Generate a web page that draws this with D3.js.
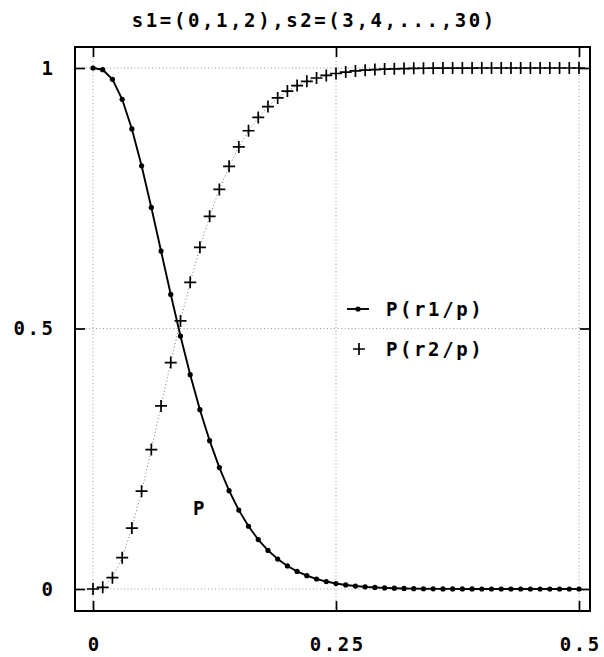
<!DOCTYPE html>
<html>
<head>
<meta charset="utf-8">
<script src="https://cdn.jsdelivr.net/npm/d3@7/dist/d3.min.js"></script>
<style>
  html, body { margin: 0; padding: 0; background: #fff; }
  svg text { font-family: "DejaVu Sans Mono", monospace; font-weight: bold; font-size: 19px; letter-spacing: 2.6px; fill: #000; }
</style>
</head>
<body>
<svg id="chart" width="604" height="657"></svg>
<script>
// Probability p on the x axis
const pValues = [
  0.00, 0.01, 0.02, 0.03, 0.04, 0.05, 0.06, 0.07, 0.08, 0.09,
  0.10, 0.11, 0.12, 0.13, 0.14, 0.15, 0.16, 0.17, 0.18, 0.19,
  0.20, 0.21, 0.22, 0.23, 0.24, 0.25, 0.26, 0.27, 0.28, 0.29,
  0.30, 0.31, 0.32, 0.33, 0.34, 0.35, 0.36, 0.37, 0.38, 0.39,
  0.40, 0.41, 0.42, 0.43, 0.44, 0.45, 0.46, 0.47, 0.48, 0.49, 0.50
];
// P(r1/p)
const pR1 = [
  1.0000, 0.9967, 0.9783, 0.9399, 0.8831, 0.8122, 0.7324, 0.6487, 0.5654, 0.4855,
  0.4114, 0.3442, 0.2847, 0.2330, 0.1887, 0.1514, 0.1204, 0.0949, 0.0741, 0.0575,
  0.0442, 0.0337, 0.0255, 0.0192, 0.0143, 0.0106, 0.0078, 0.0057, 0.0041, 0.0030,
  0.0021, 0.0015, 0.0011, 0.0007, 0.0005, 0.0003, 0.0002, 0.0002, 0.0001, 0.0001,
  0.0000, 0.0000, 0.0000, 0.0000, 0.0000, 0.0000, 0.0000, 0.0000, 0.0000, 0.0000, 0.0000
];
// P(r2/p)
const pR2 = [
  0.0000, 0.0033, 0.0217, 0.0601, 0.1169, 0.1878, 0.2676, 0.3513, 0.4346, 0.5145,
  0.5886, 0.6558, 0.7153, 0.7670, 0.8113, 0.8486, 0.8796, 0.9051, 0.9259, 0.9425,
  0.9558, 0.9663, 0.9745, 0.9808, 0.9857, 0.9894, 0.9922, 0.9943, 0.9959, 0.9970,
  0.9979, 0.9985, 0.9989, 0.9993, 0.9995, 0.9997, 0.9998, 0.9998, 0.9999, 0.9999,
  1.0000, 1.0000, 1.0000, 1.0000, 1.0000, 1.0000, 1.0000, 1.0000, 1.0000, 1.0000, 1.0000
];
const xTicks = [0, 0.25, 0.5];
const xTickLabels = ["0", "0.25", "0.5"];
const yTicks = [0, 0.5, 1];
const yTickLabels = ["0", "0.5", "1"];
const seriesNames = ["P(r1/p)", "P(r2/p)"];
const titleText = "s1=(0,1,2),s2=(3,4,...,30)";
const axisLabel = "P";

const FONT_SIZE = "19px", SPACING = 2.6;

const svg = d3.select("#chart");
const frame = { left: 75, right: 590, top: 47, bottom: 611 };
const x = d3.scaleLinear().domain([0, 0.5]).range([93, 579]);
const y = d3.scaleLinear().domain([0, 1]).range([589, 68]);

// title
svg.append("text")
  .attr("x", 313 + SPACING / 2).attr("y", 27)
  .attr("text-anchor", "middle")
  .text(titleText);

// dotted grid
const grid = svg.append("g").attr("stroke", "#9a9a9a").attr("stroke-width", 1)
  .attr("stroke-dasharray", "1,2.5").attr("fill", "none");
xTicks.forEach(t => grid.append("line")
  .attr("x1", x(t)).attr("x2", x(t)).attr("y1", frame.top).attr("y2", frame.bottom));
yTicks.forEach(t => grid.append("line")
  .attr("x1", frame.left).attr("x2", frame.right).attr("y1", y(t)).attr("y2", y(t)));

// axes with inward ticks
function styleAxis(g) {
  g.select(".domain").remove();
  g.selectAll(".tick line").attr("stroke", "#000").attr("stroke-width", 1.7);
  g.selectAll(".tick text")
    .style("font-family", "'DejaVu Sans Mono', monospace")
    .style("font-weight", "bold").style("font-size", FONT_SIZE)
    .style("letter-spacing", SPACING + "px");
}
svg.append("g").attr("transform", `translate(${frame.left},0)`)
  .call(d3.axisLeft(y).tickValues(yTicks).tickSize(-10).tickPadding(22)
    .tickFormat((d, i) => yTickLabels[i]))
  .call(styleAxis)
  .selectAll(".tick text").attr("dx", SPACING + "px");
svg.append("g").attr("transform", `translate(${frame.right},0)`)
  .call(d3.axisRight(y).tickValues(yTicks).tickSize(-10).tickFormat(""))
  .call(styleAxis);
svg.append("g").attr("transform", `translate(0,${frame.bottom})`)
  .call(d3.axisBottom(x).tickValues(xTicks).tickSize(-10).tickPadding(27)
    .tickFormat((d, i) => xTickLabels[i]))
  .call(styleAxis)
  .selectAll(".tick text").attr("dx", (SPACING / 2) + "px");
svg.append("g").attr("transform", `translate(0,${frame.top})`)
  .call(d3.axisTop(x).tickValues(xTicks).tickSize(-10).tickFormat(""))
  .call(styleAxis);

// frame
svg.append("rect")
  .attr("x", frame.left).attr("y", frame.top)
  .attr("width", frame.right - frame.left).attr("height", frame.bottom - frame.top)
  .attr("fill", "none").attr("stroke", "#000").attr("stroke-width", 2);

const r1 = pValues.map((p, i) => [p, pR1[i]]);
const r2 = pValues.map((p, i) => [p, pR2[i]]);
const line = d3.line().x(d => x(d[0])).y(d => y(d[1]));

// P(r2/p): dotted connector with plus markers
svg.append("path").datum(r2).attr("d", line)
  .attr("fill", "none").attr("stroke", "#777").attr("stroke-width", 1)
  .attr("stroke-dasharray", "1,2.5");
const cross = "M-6,0H6M0,-6V6";
svg.append("g").selectAll("path").data(r2).join("path")
  .attr("transform", d => `translate(${x(d[0])},${y(d[1])})`)
  .attr("d", cross).attr("stroke", "#000").attr("stroke-width", 1.7).attr("fill", "none");

// P(r1/p): solid line with dots
svg.append("path").datum(r1).attr("d", line)
  .attr("fill", "none").attr("stroke", "#000").attr("stroke-width", 1.9);
svg.append("g").selectAll("circle").data(r1).join("circle")
  .attr("cx", d => x(d[0])).attr("cy", d => y(d[1])).attr("r", 2.6).attr("fill", "#000");

// legend
const lg = svg.append("g");
lg.append("line").attr("x1", 347).attr("x2", 369).attr("y1", 309).attr("y2", 309)
  .attr("stroke", "#000").attr("stroke-width", 1.9);
lg.append("circle").attr("cx", 358).attr("cy", 309).attr("r", 2.6).attr("fill", "#000");
lg.append("text").attr("x", 386).attr("y", 316).text(seriesNames[0]);
lg.append("path").attr("transform", "translate(359,349)").attr("d", cross)
  .attr("stroke", "#000").attr("stroke-width", 1.7);
lg.append("text").attr("x", 386).attr("y", 356).text(seriesNames[1]);

// axis variable label
svg.append("text").attr("x", 193).attr("y", 515).text(axisLabel);
</script>
</body>
</html>
